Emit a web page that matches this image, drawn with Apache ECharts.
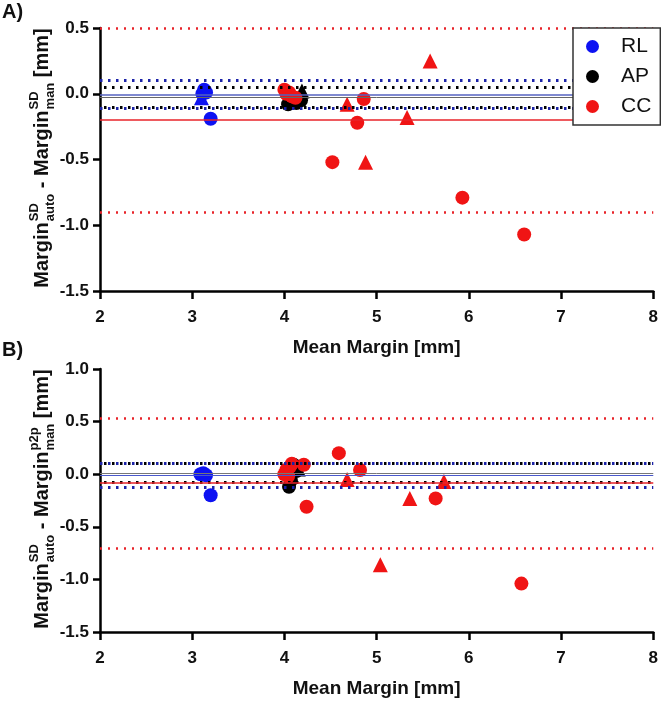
<!DOCTYPE html>
<html>
<head>
<meta charset="UTF-8">
<title>Bland-Altman margins</title>
<script src="https://cdn.jsdelivr.net/npm/echarts@6/dist/echarts.min.js"></script>
<style>
  html, body { margin: 0; padding: 0; background: #fff; }
  #main { width: 661px; height: 703px; }
</style>
</head>
<body>
<div id="main"></div>
<script>
var FONT = '"Liberation Sans", Arial, sans-serif';

var xTicks = [2, 3, 4, 5, 6, 7, 8];
var yRangeA = [-1.5, 0.5];
var yRangeB = [-1.5, 1.0];

// A) SD auto - SD manual
var rlCircleA = [[3.11, 0.00], [3.13, 0.03], [3.15, 0.01], [3.20, -0.19]];
var rlTriA = [[3.10, -0.03]];
var apCircleA = [[4.04, -0.08], [4.08, -0.06], [4.13, -0.07], [4.18, -0.05]];
var apTriA = [[4.19, 0.02]];
var ccCircleA = [[4.00, 0.03], [4.02, 0.00], [4.05, 0.01], [4.08, -0.02], [4.12, -0.03],
                 [4.52, -0.52], [4.79, -0.22], [4.86, -0.04], [5.93, -0.79], [6.60, -1.07]];
var ccTriA = [[4.68, -0.08], [4.88, -0.52], [5.33, -0.18], [5.58, 0.25]];
// mean, lower LoA, upper LoA
var rlLinesA = [-0.01, -0.11, 0.10];
var apLinesA = [-0.025, -0.10, 0.05];
var ccLinesA = [-0.20, -0.90, 0.50];

// B) SD auto - p2p manual
var rlCircleB = [[3.09, 0.00], [3.12, 0.01], [3.15, -0.01], [3.20, -0.20]];
var rlTriB = [];
var apCircleB = [[4.05, -0.12], [4.07, -0.06], [4.13, 0.03], [4.10, 0.09]];
var apTriB = [[4.15, 0.05]];
var ccCircleB = [[4.00, 0.00], [4.02, 0.04], [4.04, -0.02], [4.06, 0.07], [4.08, 0.10], [4.21, 0.09],
                 [4.24, -0.31], [4.59, 0.20], [4.82, 0.04], [5.64, -0.23], [6.57, -1.04]];
var ccTriB = [[4.68, -0.05], [5.04, -0.86], [5.36, -0.23], [5.73, -0.07]];
var rlLinesB = [-0.015, -0.12, 0.10];
var apLinesB = [0.015, -0.08, 0.10];
var ccLinesB = [-0.08, -0.70, 0.53];

var BLUE = '#0d12f2', BLACK = '#000', RED = '#f01414';

var myChart = echarts.init(document.getElementById('main'));

function xAxisCfg(idx) {
    return {
        type: 'value', gridIndex: idx, min: xTicks[0], max: xTicks[xTicks.length - 1], interval: 1,
        name: 'Mean Margin [mm]', nameLocation: 'middle', nameGap: 47,
        nameTextStyle: { fontFamily: FONT, fontWeight: 'bold', fontSize: 19, color: '#111' },
        axisLine: { onZero: false, lineStyle: { color: '#000', width: 2.5 } },
        axisTick: { length: 8, lineStyle: { color: '#000', width: 2.5 } },
        axisLabel: { fontFamily: FONT, fontWeight: 'bold', fontSize: 17, color: '#111', margin: 18 },
        splitLine: { show: false }
    };
}

function yAxisCfg(idx, range) {
    return {
        type: 'value', gridIndex: idx, min: range[0], max: range[1], interval: 0.5,
        axisLine: { show: true, onZero: false, lineStyle: { color: '#000', width: 2.5 } },
        axisTick: { show: true, length: 7, lineStyle: { color: '#000', width: 2.5 } },
        axisLabel: { fontFamily: FONT, fontWeight: 'bold', fontSize: 17, color: '#111', margin: 11,
                     formatter: function (v) { return v.toFixed(1); } },
        splitLine: { show: false }
    };
}

function refLines(vals, color, meanColor, meanWidth, dashW, offset) {
    var dotted = { type: [dashW, 8 - dashW], dashOffset: offset, color: color, width: dashW + 0.5 };
    return {
        silent: true, symbol: 'none', label: { show: false },
        data: [
            { yAxis: vals[0], lineStyle: { type: 'solid', color: meanColor, width: meanWidth } },
            { yAxis: vals[1], lineStyle: dotted },
            { yAxis: vals[2], lineStyle: dotted }
        ]
    };
}

function group(idx, name, color, circles, tris, lines, lineColor, meanColor, meanWidth, dashW, offset) {
    return [
        { name: name, type: 'scatter', xAxisIndex: idx, yAxisIndex: idx, data: circles,
          symbol: 'circle', symbolSize: 14, itemStyle: { color: color, opacity: 1 },
          markLine: refLines(lines, lineColor, meanColor, meanWidth, dashW, offset) },
        { name: name, type: 'scatter', xAxisIndex: idx, yAxisIndex: idx, data: tris,
          symbol: 'triangle', symbolSize: 15, itemStyle: { color: color, opacity: 1 } }
    ];
}

// y axis title with stacked super/subscripts, laid out with measured widths
var measureCtx = document.createElement('canvas').getContext('2d');
function textW(str, font) { measureCtx.font = font; return measureCtx.measureText(str).width; }

function yTitle(cx, cy, supB) {
    var mainFont = 'bold 20px ' + FONT;
    var smallFont = 'bold 13px ' + FONT;
    var parts = [
        { t: 'Margin' }, { sup: 'SD', sub: 'auto' },
        { t: ' - Margin' }, { sup: supB, sub: 'man' },
        { t: ' [mm]' }
    ];
    var total = 0;
    parts.forEach(function (p) {
        p.w = p.t ? textW(p.t, mainFont) : Math.max(textW(p.sup, smallFont), textW(p.sub, smallFont)) + 1;
        total += p.w;
    });
    var x = -total / 2, kids = [];
    function txt(s, f, px, py) {
        return { type: 'text', x: px, y: py,
            style: { text: s, font: f, fill: '#111', textAlign: 'left', textVerticalAlign: 'middle',
                     align: 'left', verticalAlign: 'middle' } };
    }
    parts.forEach(function (p) {
        if (p.t) {
            kids.push(txt(p.t, mainFont, x, 0));
        } else {
            kids.push(txt(p.sup, smallFont, x + 1, -8));
            kids.push(txt(p.sub, smallFont, x + 1, 8));
        }
        x += p.w;
    });
    return { type: 'group', x: cx, y: cy, rotation: Math.PI / 2, children: kids };
}

var series = [].concat(
    group(0, 'RL', BLUE, rlCircleA, rlTriA, rlLinesA, '#1b22a8', '#5562c0', 1.5, 2.5, 0),
    group(0, 'AP', BLACK, apCircleA, apTriA, apLinesA, '#000', '#666', 1, 2.5, 4),
    group(0, 'CC', RED, ccCircleA, ccTriA, ccLinesA, '#e8232a', '#e8232a', 1.5, 2, 0),
    group(1, 'RL', BLUE, rlCircleB, rlTriB, rlLinesB, '#1b22a8', '#4a58cc', 1.2, 2.5, 0),
    group(1, 'AP', BLACK, apCircleB, apTriB, apLinesB, '#000', '#777', 1, 2.5, 4),
    group(1, 'CC', RED, ccCircleB, ccTriB, ccLinesB, '#e8232a', '#e8232a', 1.5, 2, 0)
);

var option = {
    animation: false,
    backgroundColor: '#fff',
    grid: [
        { left: 100, width: 556, top: 28, height: 263 },
        { left: 100, width: 556, top: 369, height: 263 }
    ],
    xAxis: [xAxisCfg(0), xAxisCfg(1)],
    yAxis: [yAxisCfg(0, yRangeA), yAxisCfg(1, yRangeB)],
    legend: {
        orient: 'vertical', left: 573, top: 28, z: 20,
        data: [{ name: 'RL', icon: 'circle' }, { name: 'AP', icon: 'circle' }, { name: 'CC', icon: 'circle' }],
        itemWidth: 13, itemHeight: 13, itemGap: 9,
        padding: [8, 9, 8, 13],
        backgroundColor: '#fff', borderColor: '#333', borderWidth: 1.5, borderRadius: 0,
        textStyle: { fontFamily: FONT, fontSize: 21, color: '#111', padding: [0, 0, 0, 17] },
        selectedMode: false
    },
    graphic: [
        { type: 'text', left: 2, top: 2, style: { text: 'A)', font: 'bold 20px ' + FONT, fill: '#111' } },
        { type: 'text', left: 2, top: 340, style: { text: 'B)', font: 'bold 20px ' + FONT, fill: '#111' } },
        yTitle(42, 158, 'SD'),
        yTitle(42, 499, 'p2p')
    ],
    series: series
};

myChart.setOption(option);
</script>
</body>
</html>
